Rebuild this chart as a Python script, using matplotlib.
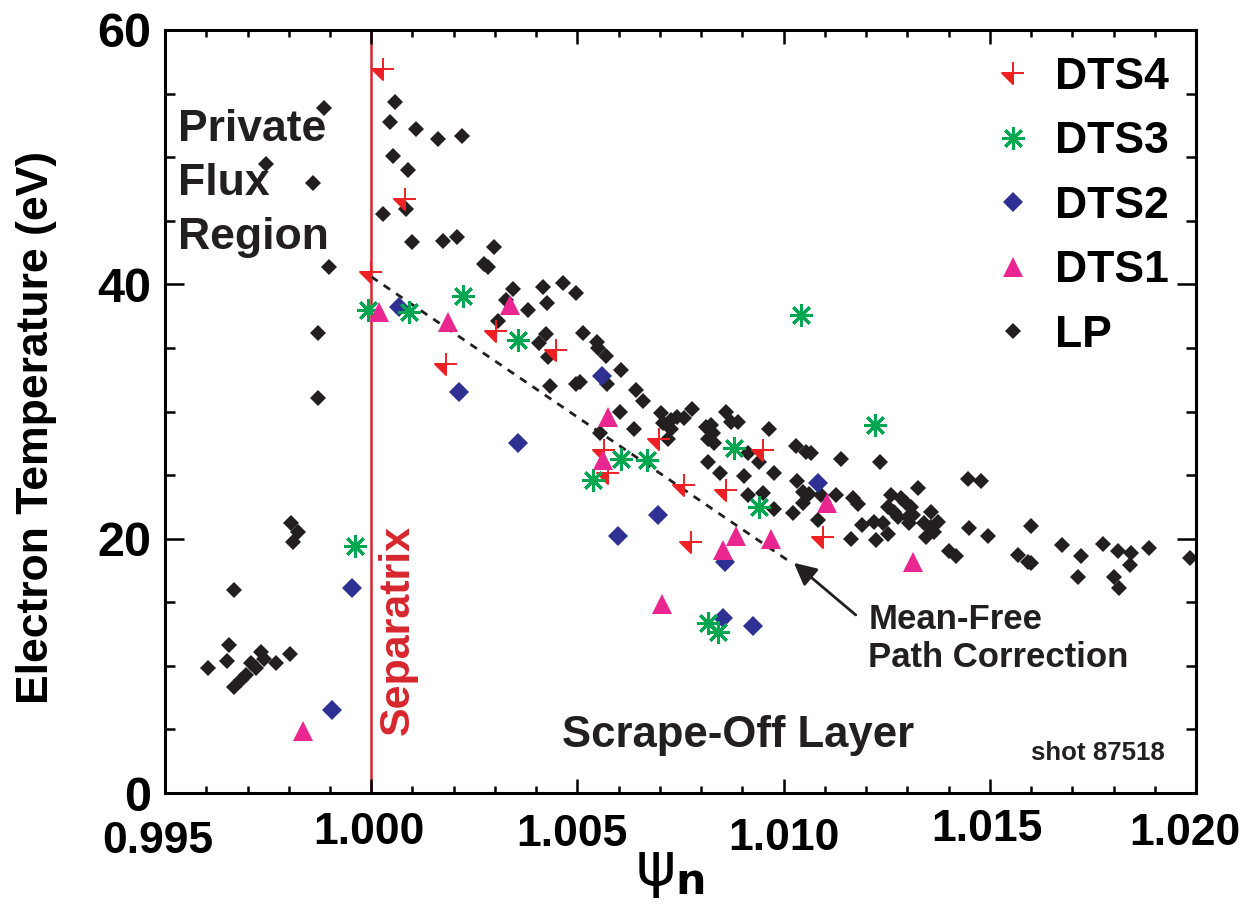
import matplotlib
matplotlib.use("Agg")
import matplotlib.pyplot as plt
from matplotlib.path import Path
from matplotlib.transforms import ScaledTranslation

plt.rcParams["font.family"] = ["Liberation Sans", "DejaVu Sans"]

# ---- data ----
dts4_x = [1.00028, 1.00082, 1.00000, 1.00181, 1.00302, 1.00448, 1.00564, 1.00574,
          1.00698, 1.00758, 1.00860, 1.00950, 1.00775, 1.01095]
dts4_y = [56.9, 46.7, 41.0, 33.7, 36.3, 34.8, 27.0, 25.2,
          27.8, 24.2, 23.8, 27.0, 19.7, 20.1]

dts3_x = [0.99992, 1.00092, 1.00222, 1.00356, 0.99961, 1.00538, 1.00605, 1.00668,
          1.00879, 1.00940, 1.00816, 1.00841, 1.01221, 1.01042]
dts3_y = [38.0, 37.8, 39.1, 35.6, 19.4, 24.6, 26.3, 26.2,
          27.1, 22.5, 13.4, 12.7, 28.9, 37.6]

dts2_x = [1.00067, 1.00213, 1.00356, 1.00559, 1.00598, 1.00695, 1.00858, 1.00853,
          1.00925, 1.01083, 0.99953, 0.99905]
dts2_y = [38.2, 31.5, 27.5, 32.8, 20.2, 21.9, 18.2, 13.8,
          13.1, 24.4, 16.1, 6.5]

dts1_x = [0.99835, 1.00019, 1.00186, 1.00336, 1.00574, 1.00562, 1.00705, 1.00853,
          1.00884, 1.00969, 1.01105, 1.01313]
dts1_y = [4.9, 37.8, 37.0, 38.4, 29.6, 26.2, 14.9, 19.1,
          20.2, 20.0, 22.8, 18.2]

lp_x = [0.99885, 0.99745, 0.99859, 0.99898, 0.99871, 0.99871, 0.99805, 0.99822,
        0.99810, 0.99667, 0.99604, 0.99655, 0.99650, 0.99667, 0.99684, 0.99696,
        0.99708, 0.99721, 0.99733, 0.99740, 0.99769, 0.99803,
        1.00058, 1.00045, 1.00108, 1.00162, 1.00220, 1.00053, 1.00089, 1.00028,
        1.00084, 1.00099, 1.00174, 1.00208, 1.00298, 1.00273, 1.00283, 1.00344,
        1.00416, 1.00465, 1.00496, 1.00327, 1.00380, 1.00426, 1.00307, 1.00424,
        1.00407, 1.00428, 1.00513, 1.00547, 1.00550, 1.00569, 1.00433, 1.00496,
        1.00506, 1.00571, 1.00605, 1.00642, 1.00659, 1.00603, 1.00554, 1.00637,
        1.00702, 1.00707, 1.00727, 1.00741, 1.00758, 1.00778, 1.00727, 1.00719,
        1.00811, 1.00824, 1.00828, 1.00816, 1.00831, 1.00860, 1.00872, 1.00889,
        1.00964, 1.01030, 1.01054, 1.01066, 1.01139, 1.01233, 1.00816, 1.00845,
        1.00904, 1.00913, 1.00940, 1.00976, 1.00913, 1.00950, 1.00976, 1.01022,
        1.01032, 1.01047, 1.01061, 1.01090, 1.01047, 1.01083, 1.01127, 1.01168,
        1.01180, 1.01190, 1.01163, 1.01224, 1.01219, 1.01241, 1.01253, 1.01260,
        1.01253, 1.01267, 1.01284, 1.01296, 1.01308, 1.01277, 1.01301, 1.01313,
        1.01304, 1.01325, 1.01357, 1.01340, 1.01357, 1.01364, 1.01374, 1.01345,
        1.01401, 1.01418, 1.01447, 1.01478, 1.01449, 1.01495, 1.01599, 1.01568,
        1.01592, 1.01599, 1.01675, 1.01721, 1.01713, 1.01774, 1.01810, 1.01842,
        1.01839, 1.01801, 1.01813, 1.01885, 1.01985]
lp_y = [53.9, 49.5, 48.0, 41.4, 36.2, 31.1, 21.2, 20.5,
        19.7, 16.0, 9.8, 11.6, 10.4, 8.3, 8.9, 9.3,
        10.2, 9.8, 11.1, 10.5, 10.2, 10.9,
        54.3, 52.8, 52.2, 51.4, 51.7, 50.1, 49.0, 45.5,
        45.9, 43.3, 43.4, 43.7, 42.9, 41.6, 41.4, 39.6,
        39.8, 40.1, 39.3, 38.8, 38.0, 38.5, 37.1, 36.1,
        35.4, 34.3, 36.2, 35.5, 35.0, 34.4, 32.0, 32.2,
        32.3, 32.2, 33.3, 31.7, 30.8, 30.0, 28.3, 28.6,
        29.9, 29.1, 29.3, 29.6, 29.5, 30.2, 28.6, 27.8,
        28.8, 28.9, 28.3, 27.8, 27.5, 30.0, 29.2, 29.2,
        28.6, 27.3, 26.8, 26.7, 26.3, 26.0, 26.0, 25.2,
        24.9, 26.7, 26.0, 25.2, 23.4, 23.6, 22.3, 22.0,
        24.5, 23.7, 23.5, 23.4, 22.8, 21.5, 23.4, 23.2,
        22.7, 21.1, 20.0, 19.9, 21.3, 21.2, 20.4, 23.4,
        22.5, 22.1, 23.2, 22.8, 22.5, 21.7, 21.7, 21.9,
        21.2, 24.0, 22.1, 21.2, 20.9, 20.5, 21.3, 20.1,
        19.0, 18.6, 24.7, 24.5, 20.8, 20.2, 21.0, 18.7,
        18.2, 18.1, 19.5, 18.6, 17.0, 19.6, 19.0, 18.9,
        17.9, 17.0, 16.1, 19.3, 18.5]

# mean-free path correction line
mfp_x = [1.0000, 1.0101]
mfp_y = [40.6, 18.3]

x_ticks = [0.995, 1.000, 1.005, 1.010, 1.015, 1.020]
x_ticklabels = ["0.995", "1.000", "1.005", "1.010", "1.015", "1.020"]
# the original tick labels are slightly staggered (px)
x_label_dx = [-7, -2, -5, 0, -3, -11]
x_label_dy = [-9, 0, -2, -6, 3, -1]
y_ticks = [0, 20, 40, 60]

RED = "#ed2024"
GREEN = "#00a650"
NAVY = "#2e3192"
MAGENTA = "#ea2690"
BLACK = "#231f20"
SEP_RED = "#d7262e"

# plus with a filled triangle in the lower-left quadrant
dts4_marker = Path(
    [(-1, 0), (0, 0), (0, -1), (-1, 0), (-1, 0), (1, 0), (0, -1), (0, 1)],
    [Path.MOVETO, Path.LINETO, Path.LINETO, Path.CLOSEPOLY,
     Path.MOVETO, Path.LINETO, Path.MOVETO, Path.LINETO],
)

fig = plt.figure(figsize=(12.4, 9.09), dpi=100)
ax = fig.add_axes([0.1331, 0.1276, 0.8314, 0.8394])

ax.axvline(1.000, color=SEP_RED, lw=1.8, zorder=1)

lp, = ax.plot(lp_x, lp_y, linestyle="none", marker="D", ms=8, mew=0,
              color=BLACK, label="LP", zorder=2)
ax.plot(mfp_x, mfp_y, color=BLACK, lw=2.0, dashes=(2.8, 2.6), zorder=2.5)
d2, = ax.plot(dts2_x, dts2_y, linestyle="none", marker="D", ms=10.5, mew=0,
              color=NAVY, label="DTS2", zorder=3)
d4, = ax.plot(dts4_x, dts4_y, linestyle="none", marker=dts4_marker, ms=16.5,
              mew=1.4, color=RED, label="DTS4", zorder=4)
d3, = ax.plot(dts3_x, dts3_y, linestyle="none", marker=(8, 2, 0), ms=16.5,
              mew=2.2, color=GREEN, label="DTS3", zorder=5)
d1, = ax.plot(dts1_x, dts1_y, linestyle="none", marker="^", ms=15, mew=0,
              color=MAGENTA, label="DTS1", zorder=6)

ax.set_xlim(0.995, 1.020)
ax.set_ylim(0, 60)

ax.set_xticks(x_ticks)
ax.set_xticklabels(x_ticklabels)
ax.set_xticks([0.995 + 0.001 * i for i in range(26)], minor=True)
ax.set_yticks(y_ticks)
ax.set_yticks(range(0, 61, 5), minor=True)

ax.tick_params(which="both", direction="in", top=True, right=True, width=1.8)
ax.tick_params(axis="x", which="major", length=10, pad=14, labelsize=32)
ax.tick_params(axis="x", which="minor", length=5)
ax.tick_params(axis="y", which="major", length=14, pad=10, labelsize=35)
ax.tick_params(axis="y", which="minor", length=7)
for sp in ax.spines.values():
    sp.set_linewidth(2.2)

for lab, dx, dy in zip(ax.get_xticklabels(), x_label_dx, x_label_dy):
    lab.set_fontweight("bold")
    lab.set_transform(lab.get_transform() +
                      ScaledTranslation(dx / 100, dy / 100, fig.dpi_scale_trans))
for lab in ax.get_yticklabels():
    lab.set_fontweight("bold")

ax.set_ylabel("Electron Temperature (eV)", fontsize=32, fontweight="bold")
ax.yaxis.set_label_coords(-0.105, 0.479)
ax.set_xlabel(r"$\mathrm{\psi}_\mathbf{n}$", fontsize=44)
ax.xaxis.set_label_coords(0.49, -0.066)

ax.text(0.013, 0.897, "Private\nFlux\nRegion", transform=ax.transAxes,
        fontsize=32, fontweight="bold", va="top", ha="left", linespacing=1.42,
        color=BLACK)
ax.text(0.226, 0.076, "Separatrix", transform=ax.transAxes, rotation=90,
        fontsize=31, fontweight="bold", va="bottom", ha="center", color=SEP_RED)
ax.text(0.385, 0.076, "Scrape-Off Layer", transform=ax.transAxes,
        fontsize=31.5, fontweight="bold", va="center", ha="left", color=BLACK)
ax.text(0.682, 0.249, "Mean-Free\nPath Correction", transform=ax.transAxes,
        fontsize=25, fontweight="bold", va="top", ha="left", linespacing=1.2,
        color=BLACK)
ax.text(0.970, 0.043, "shot 87518", transform=ax.transAxes,
        fontsize=18.6, fontweight="bold", va="baseline", ha="right", color=BLACK)

ax.annotate("", xy=(1.01025, 18.1), xytext=(1.01175, 14.0),
            arrowprops=dict(arrowstyle="-|>", color=BLACK, lw=2,
                            mutation_scale=34, shrinkA=0, shrinkB=0))

ax.legend(handles=[d4, d3, d2, d1, lp], loc="upper right", frameon=False,
          prop={"size": 32, "weight": "bold"}, borderpad=0, borderaxespad=0.6,
          handlelength=1.0, handletextpad=0.45, labelspacing=0.53)

fig.savefig("out.png", dpi=100)
